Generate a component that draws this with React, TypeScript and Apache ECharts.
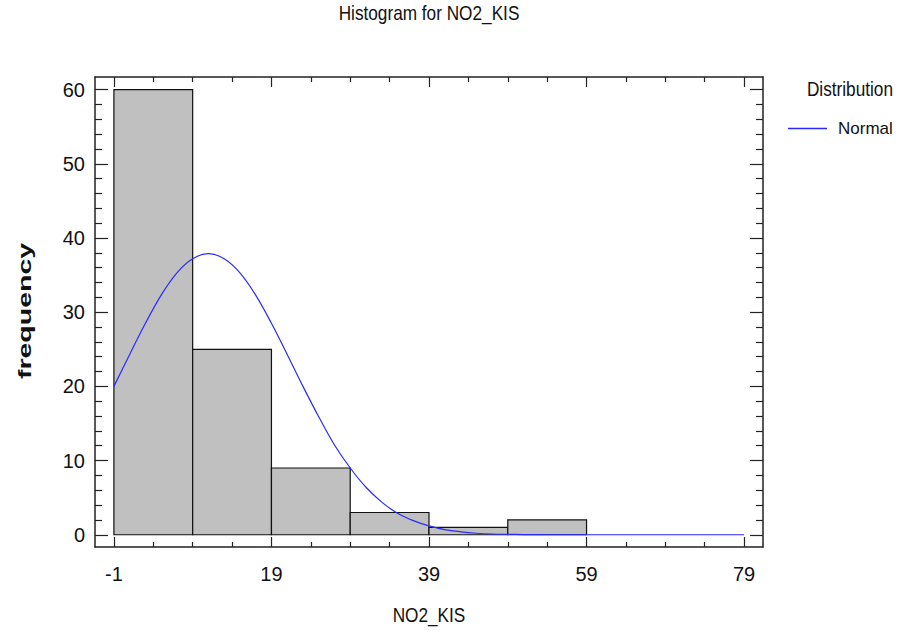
import React, { useEffect, useRef } from "react";
import * as echarts from "echarts";

// ---- data ----
const binStarts = [-1, 9, 19, 29, 39, 49];
const binEnds = [9, 19, 29, 39, 49, 59];
const frequencies = [60, 25, 9, 3, 1, 2];

const curveX = [
  -1, 1, 3, 5, 7, 9, 11, 13, 15, 17, 19, 21, 23, 25, 27, 29, 31, 33, 35, 37, 39,
  41, 43, 45, 47, 49, 51, 53, 55, 57, 59, 61, 63, 65, 67, 69, 71, 73, 75, 77, 79,
];
const curveY = [
  20.0, 24.3, 28.5, 32.3, 35.3, 37.2, 37.9, 37.2, 35.3, 32.3, 28.5, 24.3, 20.0,
  15.9, 12.1, 9.0, 6.4, 4.4, 2.9, 1.9, 1.2, 0.7, 0.4, 0.2, 0.1, 0.06, 0.03, 0.01,
  0, 0, 0, 0, 0, 0, 0, 0, 0, 0, 0, 0, 0,
];

const xTickLabels = [-1, 19, 39, 59, 79];
const xMinorTicks = [4, 9, 14, 24, 29, 34, 44, 49, 54, 64, 69, 74];
const yTickLabels = [0, 10, 20, 30, 40, 50, 60];
const yMinorTicks = [
  2, 4, 6, 8, 12, 14, 16, 18, 22, 24, 26, 28, 32, 34, 36, 38, 42, 44, 46, 48,
  52, 54, 56, 58,
];

const X_MIN = -3.4;
const X_MAX = 81.4;
const Y_MIN = -1.65;
const Y_MAX = 61.7;

const FONT = '"Liberation Sans", Arial, sans-serif';
const NARROW = 0.82;

export default function App() {
  const ref = useRef<HTMLDivElement>(null);

  useEffect(() => {
    const chart = echarts.init(ref.current!, null, { renderer: "svg" });
    const bins = binStarts.map((s, i) => [s, binEnds[i], frequencies[i]]);
    const curve = curveX.map((x, i) => [x, curveY[i]]);

    const lineStyle = { color: "#222", width: 1.5 };
    const tickStyle = { color: "#222", width: 1.2 };
    const xBase = {
      type: "value",
      min: X_MIN,
      max: X_MAX,
      splitLine: { show: false },
    };
    const yBase = {
      type: "value",
      min: Y_MIN,
      max: Y_MAX,
      splitLine: { show: false },
    };
    const labelStyle = { fontFamily: FONT, fontSize: 20, color: "#111" };

    const textEl = (text: string, x: number, y: number, align: string) => ({
      type: "text",
      x,
      y,
      scaleX: NARROW,
      style: {
        text,
        fontFamily: FONT,
        fontSize: 21,
        fill: "#111",
        textAlign: align,
        textVerticalAlign: "middle",
        align,
        verticalAlign: "middle",
      },
    });

    const option: any = {
      animation: false,
      backgroundColor: "#fff",
      grid: { left: 95, top: 77, width: 668, height: 470, containLabel: false },
      xAxis: [
        {
          ...xBase,
          position: "bottom",
          axisLine: { show: true, onZero: false, lineStyle },
          axisTick: { show: true, inside: true, length: 10, customValues: xTickLabels, lineStyle: tickStyle },
          axisLabel: { show: true, customValues: xTickLabels, margin: 17, ...labelStyle },
        },
        {
          ...xBase,
          position: "bottom",
          axisLine: { show: false, onZero: false },
          axisTick: { show: true, inside: true, length: 5, customValues: xMinorTicks, lineStyle: tickStyle },
          axisLabel: { show: false },
        },
        {
          ...xBase,
          position: "top",
          axisLine: { show: true, onZero: false, lineStyle },
          axisTick: { show: true, inside: true, length: 10, customValues: xTickLabels, lineStyle: tickStyle },
          axisLabel: { show: false },
        },
        {
          ...xBase,
          position: "top",
          axisLine: { show: false, onZero: false },
          axisTick: { show: true, inside: true, length: 5, customValues: xMinorTicks, lineStyle: tickStyle },
          axisLabel: { show: false },
        },
      ],
      yAxis: [
        {
          ...yBase,
          position: "left",
          axisLine: { show: true, onZero: false, lineStyle },
          axisTick: { show: true, inside: true, length: 13, customValues: yTickLabels, lineStyle: tickStyle },
          axisLabel: { show: true, customValues: yTickLabels, margin: 10, ...labelStyle },
        },
        {
          ...yBase,
          position: "left",
          axisLine: { show: false, onZero: false },
          axisTick: { show: true, inside: true, length: 7, customValues: yMinorTicks, lineStyle: tickStyle },
          axisLabel: { show: false },
        },
        {
          ...yBase,
          position: "right",
          axisLine: { show: true, onZero: false, lineStyle },
          axisTick: { show: true, inside: true, length: 13, customValues: yTickLabels, lineStyle: tickStyle },
          axisLabel: { show: false },
        },
        {
          ...yBase,
          position: "right",
          axisLine: { show: false, onZero: false },
          axisTick: { show: true, inside: true, length: 7, customValues: yMinorTicks, lineStyle: tickStyle },
          axisLabel: { show: false },
        },
      ],
      legend: {
        data: [{ name: "Normal", icon: "rect" }],
        left: 788,
        top: 120,
        padding: 0,
        itemWidth: 39,
        itemHeight: 1.5,
        selectedMode: false,
        textStyle: { fontFamily: FONT, fontSize: 17, color: "#111", padding: [0, 0, 0, 6] },
      },
      graphic: [
        textEl("Histogram for NO2_KIS", 429, 13, "center"),
        textEl("NO2_KIS", 429, 615, "center"),
        textEl("Distribution", 893, 89, "right"),
        {
          type: "text",
          x: 24,
          y: 311,
          rotation: Math.PI / 2,
          scaleX: 1.5,
          style: {
            text: "frequency",
            fontFamily: FONT,
            fontWeight: "bold",
            fontSize: 19,
            fill: "#111",
            textAlign: "center",
            textVerticalAlign: "middle",
            align: "center",
            verticalAlign: "middle",
          },
        },
      ],
      series: [
        {
          type: "custom",
          name: "bins",
          xAxisIndex: 0,
          yAxisIndex: 0,
          data: bins,
          encode: { x: [0, 1], y: 2 },
          silent: true,
          z: 2,
          renderItem: (params: any, api: any) => {
            const p0 = api.coord([api.value(0), api.value(2)]);
            const p1 = api.coord([api.value(1), 0]);
            return {
              type: "rect",
              shape: { x: p0[0], y: p0[1], width: p1[0] - p0[0], height: p1[1] - p0[1] },
              style: { fill: "#c0c0c0", stroke: "#111", lineWidth: 1.2 },
            };
          },
        },
        {
          type: "line",
          name: "Normal",
          xAxisIndex: 0,
          yAxisIndex: 0,
          data: curve,
          smooth: 0.35,
          symbol: "none",
          showSymbol: false,
          color: "#2a2aff",
          lineStyle: { color: "#2a2aff", width: 1.2 },
          itemStyle: { color: "#2a2aff" },
          z: 3,
        },
      ],
    };

    chart.setOption(option);
    return () => chart.dispose();
  }, []);

  return (
    <div
      ref={ref}
      style={{ position: "fixed", left: 0, top: 0, width: 901, height: 642, background: "#fff" }}
    />
  );
}
